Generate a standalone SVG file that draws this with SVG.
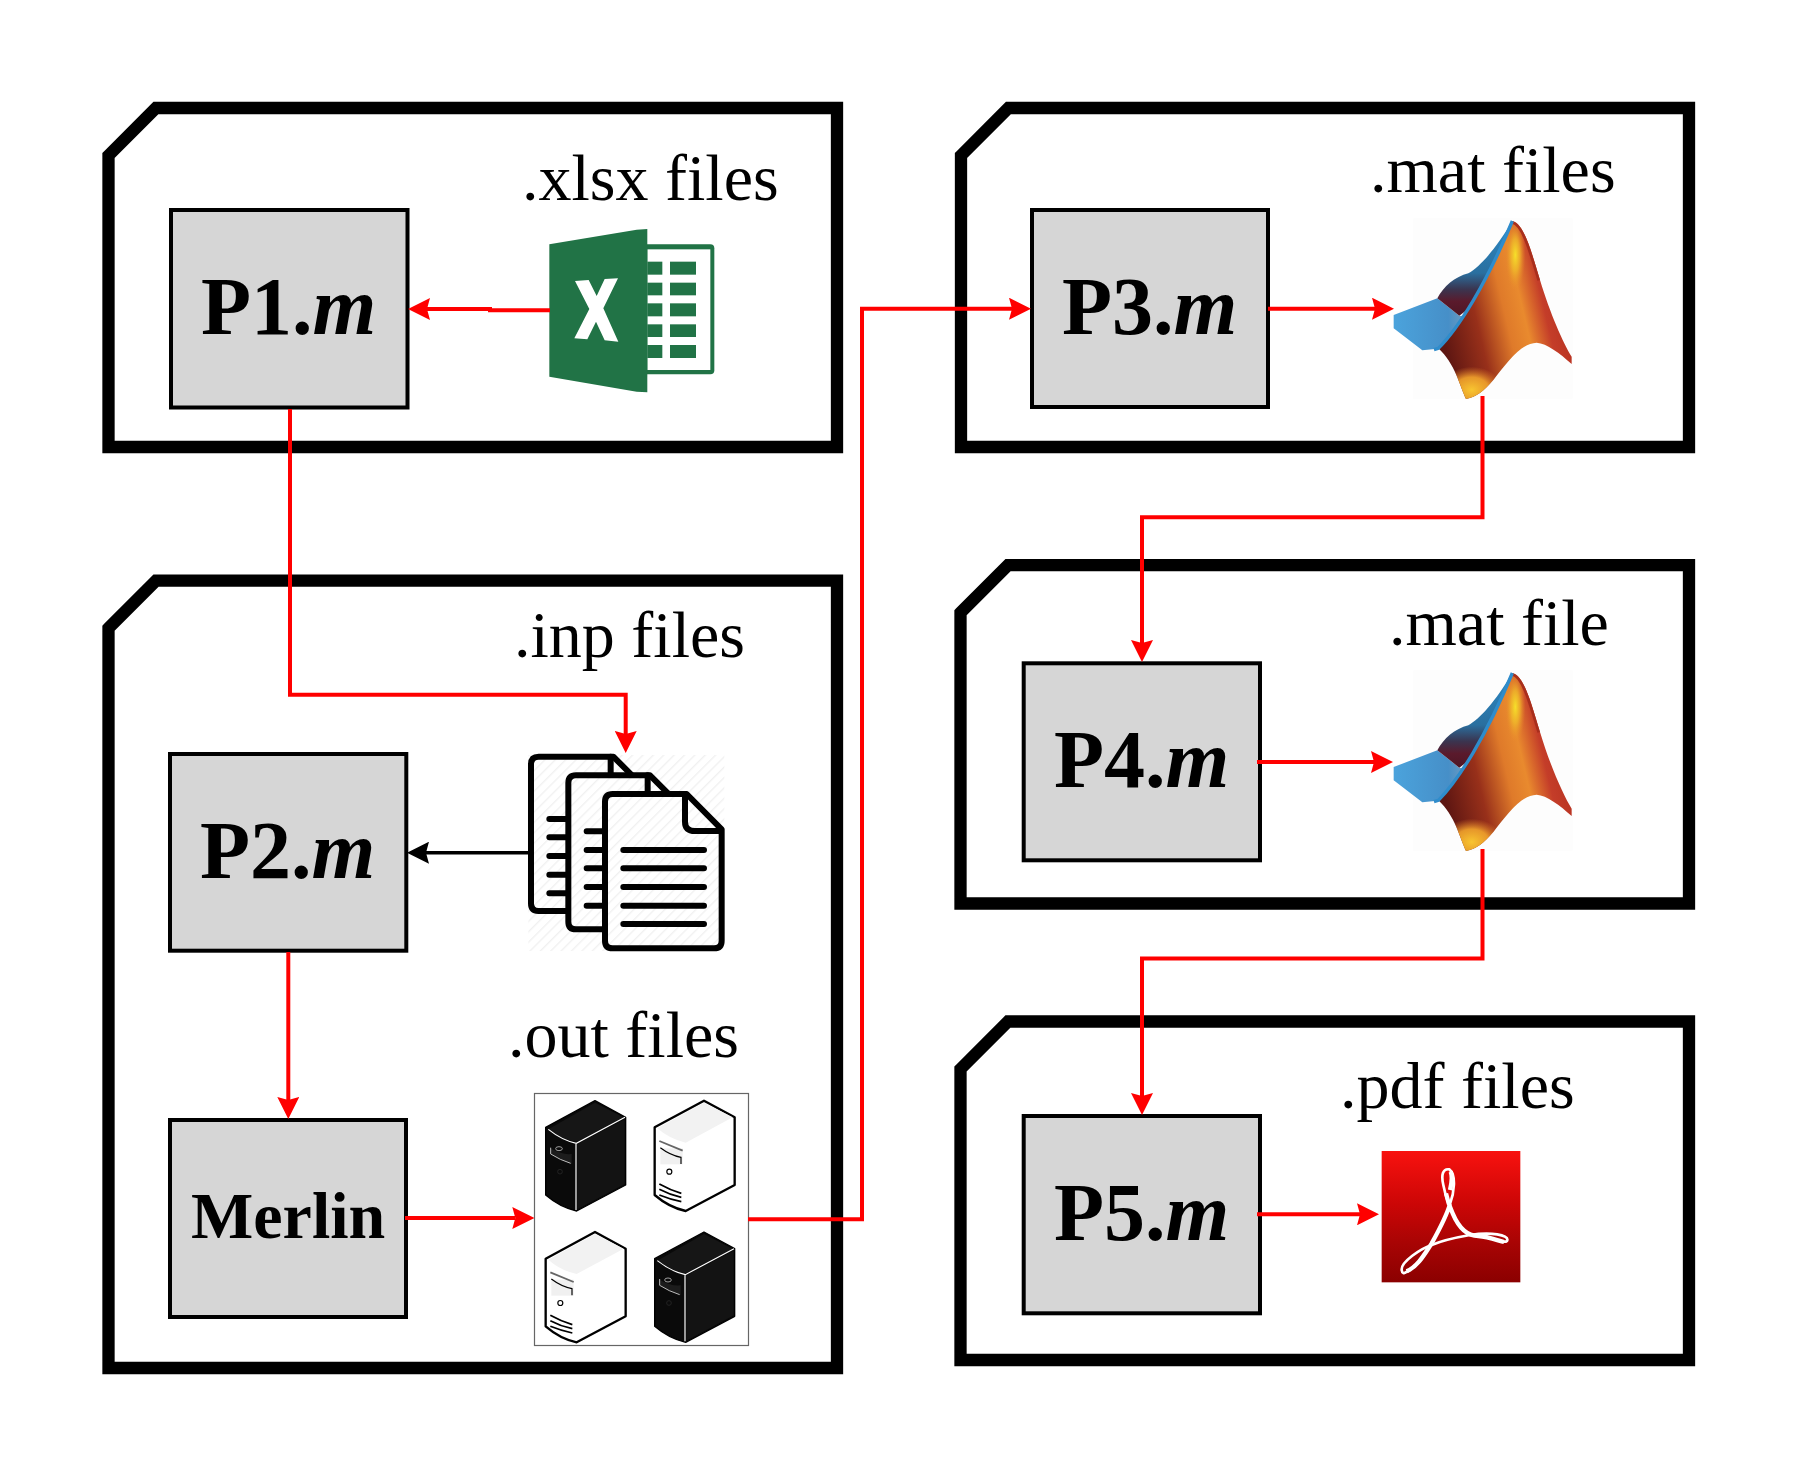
<svg xmlns="http://www.w3.org/2000/svg" xmlns:xlink="http://www.w3.org/1999/xlink" width="1798" height="1477" viewBox="0 0 1798 1477">
<style>
.frame{fill:#fff;stroke:#000;stroke-width:12.3;stroke-miterlimit:10}
.box{fill:#d6d6d6;stroke:#000;stroke-width:4}
.proc{font-family:"Liberation Serif","Times New Roman",serif;font-weight:700;font-size:82px;fill:#000}
.proc tspan{font-style:italic}
.merlin{font-size:66px}
.lbl{font-family:"Liberation Serif","Times New Roman",serif;font-size:66px;fill:#000}
.red{fill:none;stroke:#f00;stroke-width:4;stroke-linejoin:miter}
.blk{fill:none;stroke:#000;stroke-width:3.6}
.pg{fill:url(#hatch);stroke:#000;stroke-width:18;stroke-linejoin:round}
.ln{fill:none;stroke:#000;stroke-width:18;stroke-linecap:round}
.wl{fill:none;stroke:#fff;stroke-width:3.5}
.kl{fill:none;stroke:#000;stroke-width:5}
</style>
<defs>
<marker id="ah" markerUnits="userSpaceOnUse" markerWidth="22" markerHeight="22" viewBox="0 -11 22 22" refX="3" refY="0" orient="auto"><path d="M0,-11L22,0L0,11L3,0Z" fill="#f00"/></marker>
<marker id="ak" markerUnits="userSpaceOnUse" markerWidth="22" markerHeight="22" viewBox="0 -11 22 22" refX="3" refY="0" orient="auto"><path d="M0,-11L22,0L0,11L3,0Z" fill="#000"/></marker>
<pattern id="hatch" patternUnits="userSpaceOnUse" width="22" height="22" patternTransform="rotate(45)"><rect width="22" height="22" fill="#fff"/><rect width="4" height="22" fill="#f1f1f1"/></pattern>
<linearGradient id="pdfg" x1="0" y1="0" x2="0" y2="1"><stop offset="0" stop-color="#f8120f"/><stop offset=".4" stop-color="#cc0606"/><stop offset=".7" stop-color="#a80404"/><stop offset="1" stop-color="#8b0000"/></linearGradient>
<linearGradient id="mbl" x1="0" y1="0" x2="1" y2="0"><stop offset="0" stop-color="#4ba3dc"/><stop offset=".7" stop-color="#468fc8"/><stop offset="1" stop-color="#7d9fbc"/></linearGradient>
<linearGradient id="mwing" x1="0" y1="0" x2="0" y2="1"><stop offset="0" stop-color="#2c8ac6"/><stop offset=".55" stop-color="#2a6f9f"/><stop offset=".72" stop-color="#3a3550"/><stop offset=".85" stop-color="#5a1a2c"/><stop offset="1" stop-color="#4e1624"/></linearGradient>
<linearGradient id="msurf" gradientUnits="userSpaceOnUse" x1="190" y1="420" x2="575" y2="330"><stop offset="0" stop-color="#5e1612"/><stop offset=".28" stop-color="#98301a"/><stop offset=".5" stop-color="#df7a2a"/><stop offset=".64" stop-color="#e98a2e"/><stop offset=".8" stop-color="#c43d29"/><stop offset="1" stop-color="#b4301f"/></linearGradient>
<radialGradient id="myel"><stop offset="0" stop-color="#f6e02a"/><stop offset=".45" stop-color="#efb52a" stop-opacity=".85"/><stop offset="1" stop-color="#e8862a" stop-opacity="0"/></radialGradient>
<radialGradient id="mbot"><stop offset="0" stop-color="#f8c530"/><stop offset=".55" stop-color="#f2a32c" stop-opacity=".9"/><stop offset="1" stop-color="#e8802c" stop-opacity="0"/></radialGradient>
<clipPath id="mclip"><path d="M397,63C430,70 450,140 480,240C510,340 550,430 575,470V492C540,460 500,430 470,428C420,430 380,490 340,540C310,575 290,590 258,597C240,560 225,490 175,445C235,385 320,250 397,63Z"/></clipPath>
<g id="matlab">
<rect x="100" y="55" width="478" height="542" fill="#fdfdfd"/>
<path d="M41,345L172,295L238,347L275,350L210,425L165,447L127,451L41,385Z" fill="url(#mbl)"/>
<path d="M397,63C345,150 300,200 265,220C225,230 190,260 172,295L238,347L300,300Z" fill="url(#mwing)"/>
<path d="M397,63C430,70 450,140 480,240C510,340 550,430 575,470V492C540,460 500,430 470,428C420,430 380,490 340,540C310,575 290,590 258,597C240,560 225,490 175,445C235,385 320,250 397,63Z" fill="url(#msurf)"/>
<g clip-path="url(#mclip)"><ellipse cx="406" cy="165" rx="30" ry="110" fill="url(#myel)"/><ellipse cx="275" cy="570" rx="95" ry="70" fill="url(#mbot)"/><path d="M397,63C430,70 450,140 480,240" fill="none" stroke="#a82f1c" stroke-width="16"/></g>
<path d="M397,63C320,250 235,385 175,445L162,449" fill="none" stroke="#2f8ccb" stroke-width="10"/>
</g>
<g id="srvB">
<path d="M345,62L437,112V315L290,393Q240,382 197,345V142Z" fill="#0a0a0a" stroke="#000" stroke-width="4" stroke-linejoin="round"/>
<path d="M345,68L430,112L290,186Q245,178 205,148Z" fill="#161616"/>
<path d="M292,192L434,118V312L292,388Z" fill="#131313"/>
<path class="wl" d="M205,148Q245,180 289,190L435,112M288,190V390"/>
<path d="M212,205Q245,225 275,222L275,252Q240,240 212,222Z" fill="#1c1c1c"/>
<path d="M212,203V222Q240,240 272,250" fill="none" stroke="#ddd" stroke-width="2.5"/>
<ellipse cx="237" cy="206" rx="10" ry="6" fill="none" stroke="#bbb" stroke-width="2.5"/>
<circle cx="240" cy="275" r="7" fill="none" stroke="#222" stroke-width="3"/>
</g>
<g id="srvW">
<path d="M345,62L437,112V315L290,393Q240,382 197,345V142Z" fill="#fff" stroke="#000" stroke-width="7" stroke-linejoin="round"/>
<path d="M345,68L431,112L290,188Q243,178 205,145Z" fill="#f2f2f2"/>
<rect x="214" y="205" width="67" height="48" fill="#f0f0f0"/>
<path d="M211,183L281,212" fill="none" stroke="#666" stroke-width="5.5"/>
<path d="M214,203Q243,225 276,232V252" fill="none" stroke="#000" stroke-width="3.5"/>
<circle cx="241" cy="275" r="7.5" fill="#fff" stroke="#000" stroke-width="3.5"/>
<path class="kl" d="M211,312Q243,330 277,340M211,328Q243,345 277,352M211,345Q243,358 277,365"/>
</g>
</defs>
<rect width="1798" height="1477" fill="#fff"/>

<g id="container-xlsx"><path class="frame" d="M108.5,155.5L156,108H837V447H108.5Z"/><text class="lbl" x="522" y="200">.xlsx files</text></g>
<g id="container-mat1"><path class="frame" d="M961,155.5L1008.500,108H1689V447H961Z"/><text class="lbl" x="1370" y="192">.mat files</text></g>
<g id="container-inp"><path class="frame" d="M108.5,628.200L156,580.700H837V1368H108.5Z"/><text class="lbl" x="514" y="657.300">.inp files</text><text class="lbl" x="508" y="1056.700">.out files</text></g>
<g id="container-mat2"><path class="frame" d="M960.500,612.700L1008,565.200H1689V903.500H960.500Z"/><text class="lbl" x="1389" y="645">.mat file</text></g>
<g id="container-pdf"><path class="frame" d="M960.500,1069L1008,1021.500H1689V1360H960.500Z"/><text class="lbl" x="1340" y="1108.300">.pdf files</text></g>

<g id="icon-excel" transform="translate(530 210) scale(.33333)">
<path d="M340,103H541Q553,103 553,115V481Q553,493 541,493H340Z" fill="#217346"/>
<rect x="352" y="118" width="189" height="362" fill="#fff"/>
<g fill="#217346"><rect x="352" y="155" width="45" height="39"/><rect x="420" y="155" width="78" height="39"/><rect x="352" y="218" width="45" height="38"/><rect x="420" y="218" width="78" height="38"/><rect x="352" y="280" width="45" height="39"/><rect x="420" y="280" width="78" height="39"/><rect x="352" y="343" width="45" height="38"/><rect x="420" y="343" width="78" height="38"/><rect x="352" y="405" width="45" height="39"/><rect x="420" y="405" width="78" height="39"/></g>
<path d="M58,103L320,59L352,57V547L320,545L58,500Z" fill="#217346"/>
<path d="M135,213L176,210L200,258L224,207L264,205L220,295L265,395L224,391L198,335L172,388L133,385L178,297Z" fill="#fff"/>
</g>

<g id="icon-docs" transform="translate(480 720) scale(.33333)">
<rect x="145" y="105" width="588" height="588" fill="url(#hatch)"/>
<path class="pg" d="M400,110L500,210V560Q500,573 480,573H175Q153,573 153,550V133Q153,110 176,110Z"/>
<path class="ln" d="M392,110V180M208,297H270M208,352H270M208,408H270M208,464H270M208,520H270"/>
<path class="pg" d="M510,166L610,266V615Q610,628 590,628H288Q265,628 265,605V189Q265,166 288,166Z"/>
<path class="ln" d="M503,166V236M320,334H380M320,390H380M320,445H380M320,501H380M320,557H380"/>
<path class="pg" d="M620,222L725,328V662Q725,685 702,685H398Q375,685 375,662V245Q375,222 398,222Z"/>
<path fill="none" stroke="#000" stroke-width="18" d="M615,222V305Q615,333 645,333H725"/>
<path class="ln" d="M430,390H672M430,445H672M430,501H672M430,557H672M430,612H672"/>
</g>

<g id="icon-servers">
<rect x="534.500" y="1093.500" width="214" height="252" fill="#fff" stroke="#666" stroke-width="1.200"/>
<g transform="translate(480 1080) scale(.33333)">
<use xlink:href="#srvB" href="#srvB"/>
<use xlink:href="#srvW" href="#srvW" transform="translate(327 0)"/>
<use xlink:href="#srvW" href="#srvW" transform="translate(0 394)"/>
<use xlink:href="#srvB" href="#srvB" transform="translate(327 394)"/>
</g>
</g>

<g id="icon-matlab1" transform="translate(1380 200) scale(.33333)"><use xlink:href="#matlab" href="#matlab"/></g>
<g id="icon-matlab2" transform="translate(1380 652) scale(.33333)"><use xlink:href="#matlab" href="#matlab"/></g>

<g id="icon-pdf" transform="translate(1360 1130) scale(.33333)">
<rect x="65" y="63" width="416" height="394" fill="url(#pdfg)"/>
<path d="M135,428C175,410 195,370 215,340C240,295 262,250 270,222C282,190 290,135 268,118C248,115 243,135 250,165C256,195 265,222 278,250C297,295 320,318 355,318C400,322 440,345 442,330C445,315 395,305 330,315C290,322 245,332 215,345C180,357 125,395 125,418C125,432 135,430 135,428Z" fill="none" stroke="#fff" stroke-width="8" stroke-linejoin="round"/>
<path d="M140,424C175,408 195,370 215,340C240,295 262,250 270,222M258,190C262,210 268,228 278,250C297,295 320,318 355,318C385,320 415,332 432,336M270,180C275,160 278,140 272,125" fill="none" stroke="#fff" stroke-width="13"/>
</g>

<g id="node-p1"><rect class="box" x="171" y="210" width="236.500" height="197.500"/><text class="proc" x="201" y="334">P1.<tspan>m</tspan></text></g>
<g id="node-p2"><rect class="box" x="170" y="754" width="236.300" height="196.700"/><text class="proc" x="200" y="877.700">P2.<tspan>m</tspan></text></g>
<g id="node-merlin"><rect class="box" x="170" y="1120" width="236" height="197"/><text class="proc merlin" x="191" y="1238">Merlin</text></g>
<g id="node-p3"><rect class="box" x="1032" y="210" width="236" height="197"/><text class="proc" x="1062" y="334">P3.<tspan>m</tspan></text></g>
<g id="node-p4"><rect class="box" x="1023.700" y="663.300" width="236.300" height="197"/><text class="proc" x="1054" y="786.700">P4.<tspan>m</tspan></text></g>
<g id="node-p5"><rect class="box" x="1023.700" y="1116" width="236.300" height="197.300"/><text class="proc" x="1054" y="1239.700">P5.<tspan>m</tspan></text></g>

<g id="connectors">
<path class="red" marker-end="url(#ah)" d="M550,310.300H490V309H427"/>
<path class="red" marker-end="url(#ah)" d="M290,409V694.700H625.700V734"/>
<path class="blk" marker-end="url(#ak)" d="M528,852.700H426"/>
<path class="red" marker-end="url(#ah)" d="M288.300,952V1100"/>
<path class="red" marker-end="url(#ah)" d="M405,1218H515.300"/>
<path class="red" marker-end="url(#ah)" d="M748,1219.300H862V308.700H1012"/>
<path class="red" marker-end="url(#ah)" d="M1268,308.700H1375"/>
<path class="red" marker-end="url(#ah)" d="M1482.500,396V517.300H1142V643"/>
<path class="red" marker-end="url(#ah)" d="M1257,762H1374"/>
<path class="red" marker-end="url(#ah)" d="M1482.500,849V958.500H1142V1096"/>
<path class="red" marker-end="url(#ah)" d="M1257,1214.300H1360"/>
</g>
</svg>
